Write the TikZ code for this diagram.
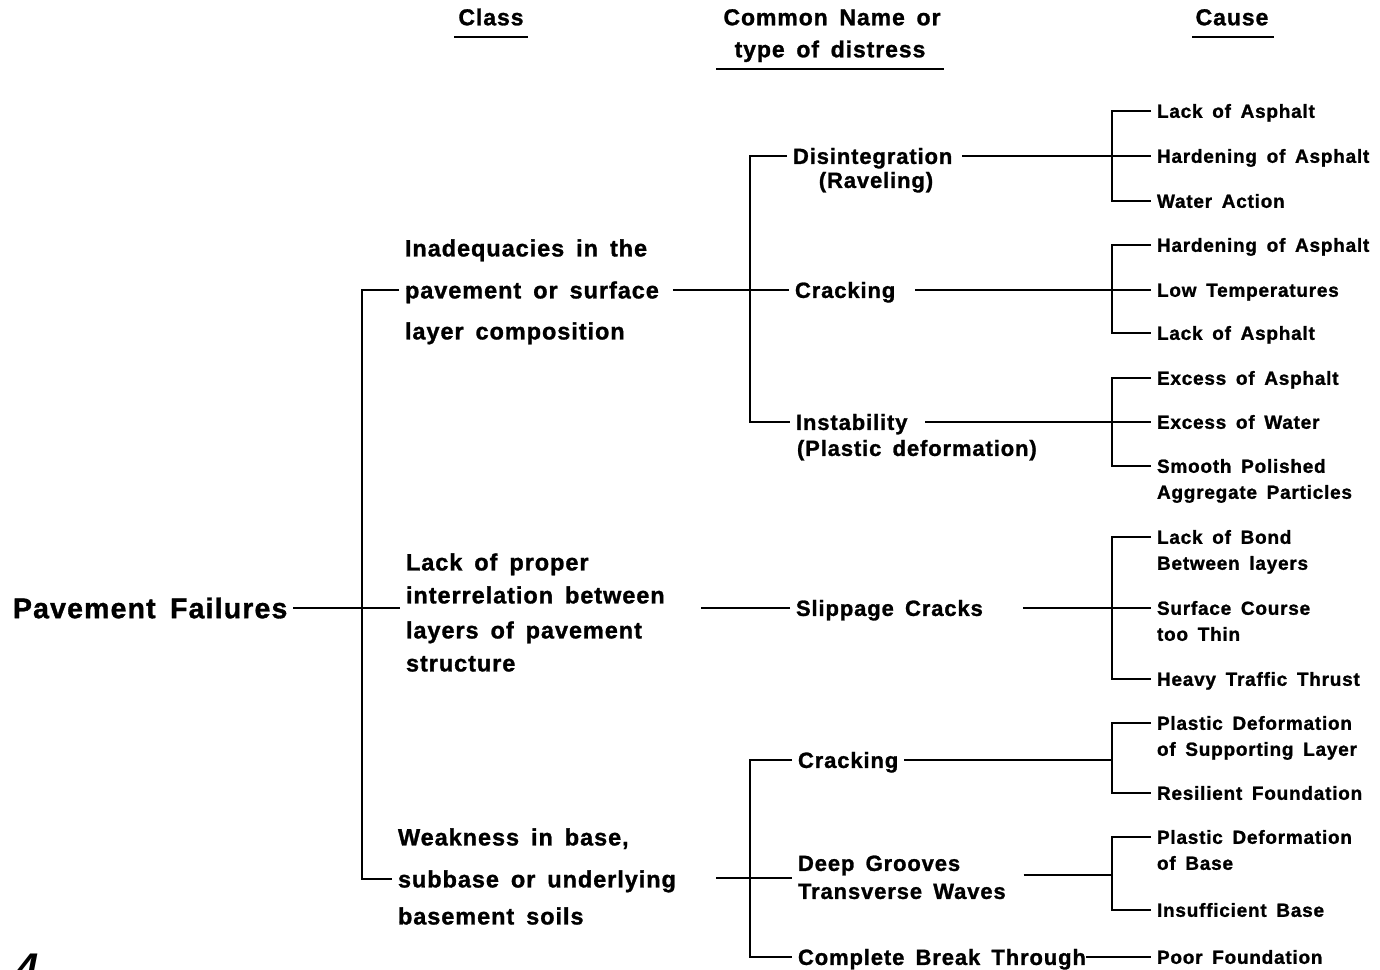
\documentclass[tikz,border=0pt]{standalone}
\usepackage{fontspec}
\setmainfont{Liberation Sans}[LetterSpace=4, WordSpace=1.6, BoldFeatures={FakeBold=1.2}]
\begin{document}
\begin{tikzpicture}[x=1pt,y=-1pt,
  txt/.style={inner sep=0pt, outer xsep=6pt, anchor=west, text depth=0pt},
  cause/.style={txt, text height=13.6pt, font=\bfseries\fontsize{19}{22}\selectfont},
  mid/.style={txt, text height=15.8pt, font=\bfseries\fontsize{22}{26}\selectfont},
  cls/.style={txt, text height=16.8pt, font=\bfseries\fontsize{23.5}{27}\selectfont},
  hdr/.style={txt, anchor=center, text height=16.5pt, font=\bfseries\fontsize{23}{27}\selectfont},
  rootst/.style={txt, text height=20.4pt, font=\bfseries\fontsize{28.5}{32}\selectfont},
  ln/.style={line width=2.4pt, line cap=butt},
  ul/.style={line width=2.8pt}]
\clip (0,0) rectangle (1380,969);
\fill[white] (0,0) rectangle (1380,969);

% headers
\node[hdr] (hClass) at (491,17) {Class};
\node[hdr] (hName1) at (832,17) {Common Name or};
\node[hdr] (hName2) at (830,49) {type of distress};
\node[hdr] (hCause) at (1232,17) {Cause};
\draw[ul] (454,37) -- (528,37);
\draw[ul] (716,69) -- (944,69);
\draw[ul] (1192,37) -- (1274,37);

% root
\node[rootst] (root) at (7,608) {Pavement Failures};
\coordinate (J1) at (362,608);

% class column
\node[cls] (c1a) at (399,248) {Inadequacies in the};
\node[cls] (c1b) at (399,290) {pavement or surface};
\node[cls] (c1c) at (399,331) {layer composition};
\node[cls] (c2a) at (400,562) {Lack of proper};
\node[cls] (c2b) at (400,595) {interrelation between};
\node[cls] (c2c) at (400,630) {layers of pavement};
\node[cls] (c2d) at (400,663) {structure};
\node[cls] (c3a) at (392,837) {Weakness in base,};
\node[cls] (c3b) at (392,879) {subbase or underlying};
\node[cls] (c3c) at (392,916) {basement soils};
\coordinate (c3out) at (716,878);

% middle column
\coordinate (J2) at (750,290);
\coordinate (J3) at (750,878);
\node[mid] (m1) at (787,156) {Disintegration};
\node[mid, anchor=center] (m1b) at (876,180) {(Raveling)};
\node[mid] (m2) at (789,290) {Cracking};
\node[mid] (m3) at (790,422) {Instability};
\node[mid] (m3b) at (791,448) {(Plastic deformation)};
\node[mid] (m4) at (790,608) {Slippage Cracks};
\node[mid] (m5) at (792,760) {Cracking};
\node[mid] (m6) at (792,863) {Deep Grooves};
\node[mid] (m6b) at (792,891) {Transverse Waves};
\node[mid] (m7) at (792,957) {Complete Break Through};

% cause column
\coordinate (K1) at (1112,156);
\coordinate (K2) at (1112,290);
\coordinate (K3) at (1112,422);
\coordinate (K4) at (1112,608);
\coordinate (K5) at (1112,760);
\coordinate (K6) at (1112,875);
\node[cause] (e1a) at (1151,111) {Lack of Asphalt};
\node[cause] (e1b) at (1151,156) {Hardening of Asphalt};
\node[cause] (e1c) at (1151,201) {Water Action};
\node[cause] (e2a) at (1151,245) {Hardening of Asphalt};
\node[cause] (e2b) at (1151,290) {Low Temperatures};
\node[cause] (e2c) at (1151,333) {Lack of Asphalt};
\node[cause] (e3a) at (1151,378) {Excess of Asphalt};
\node[cause] (e3b) at (1151,422) {Excess of Water};
\node[cause] (e3c) at (1151,466) {Smooth Polished};
\node[cause] (e3d) at (1151,492) {Aggregate Particles};
\node[cause] (e4a) at (1151,537) {Lack of Bond};
\node[cause] (e4a2) at (1151,563) {Between layers};
\node[cause] (e4b) at (1151,608) {Surface Course};
\node[cause] (e4b2) at (1151,634) {too Thin};
\node[cause] (e4c) at (1151,679) {Heavy Traffic Thrust};
\node[cause] (e5a) at (1151,723) {Plastic Deformation};
\node[cause] (e5a2) at (1151,749) {of Supporting Layer};
\node[cause] (e5b) at (1151,793) {Resilient Foundation};
\node[cause] (e6a) at (1151,837) {Plastic Deformation};
\node[cause] (e6a2) at (1151,863) {of Base};
\node[cause] (e6b) at (1151,910) {Insufficient Base};
\node[cause] (e7) at (1151,957) {Poor Foundation};

% page number fragment
\node[inner sep=0pt, anchor=north west, font=\bfseries\itshape\fontsize{40}{44}\selectfont] (pg) at (16,954) {4};

% connectors: root and classes
\draw[ln] (root.east) -- (J1);
\draw[ln] (c1b.west) -| (J1) |- (c3b.west);
\draw[ln] (J1) -- (J1 -| c2b.west);
\draw[ln, shorten <=8pt] (c1b.east) -- (m2.west);
\draw[ln, shorten >=30pt] (m4.west) -- (m4.west -| c2b.east);
\draw[ln] (c3out) -- (J3 -| m6.west);

% middle brackets
\draw[ln] (m1.west) -| (J2) |- (m3.west);
\draw[ln] (m5.west) -| (J3) |- (m7.west);

% to causes
\draw[ln, shorten <=4pt] (m1.east) -- (e1b.west);
\draw[ln] (e1a.west) -| (K1) |- (e1c.west);
\draw[ln, shorten <=14pt] (m2.east) -- (e2b.west);
\draw[ln] (e2a.west) -| (K2) |- (e2c.west);
\draw[ln, shorten <=12pt] (m3.east) -- (e3b.west);
\draw[ln] (e3a.west) -| (K3) |- (e3c.west);
\draw[ln, shorten <=34pt] (m4.east) -- (e4b.west);
\draw[ln] (e4a.west) -| (K4) |- (e4c.west);
\draw[ln] (m5.east) -- (K5);
\draw[ln] (e5a.west) -| (K5) |- (e5b.west);
\draw[ln, shorten <=12pt] (m6b.east |- K6) -- (K6);
\draw[ln] (e6a.west) -| (K6) |- (e6b.west);
\draw[ln, shorten <=-6pt] (m7.east) -- (e7.west);
\end{tikzpicture}
\end{document}
